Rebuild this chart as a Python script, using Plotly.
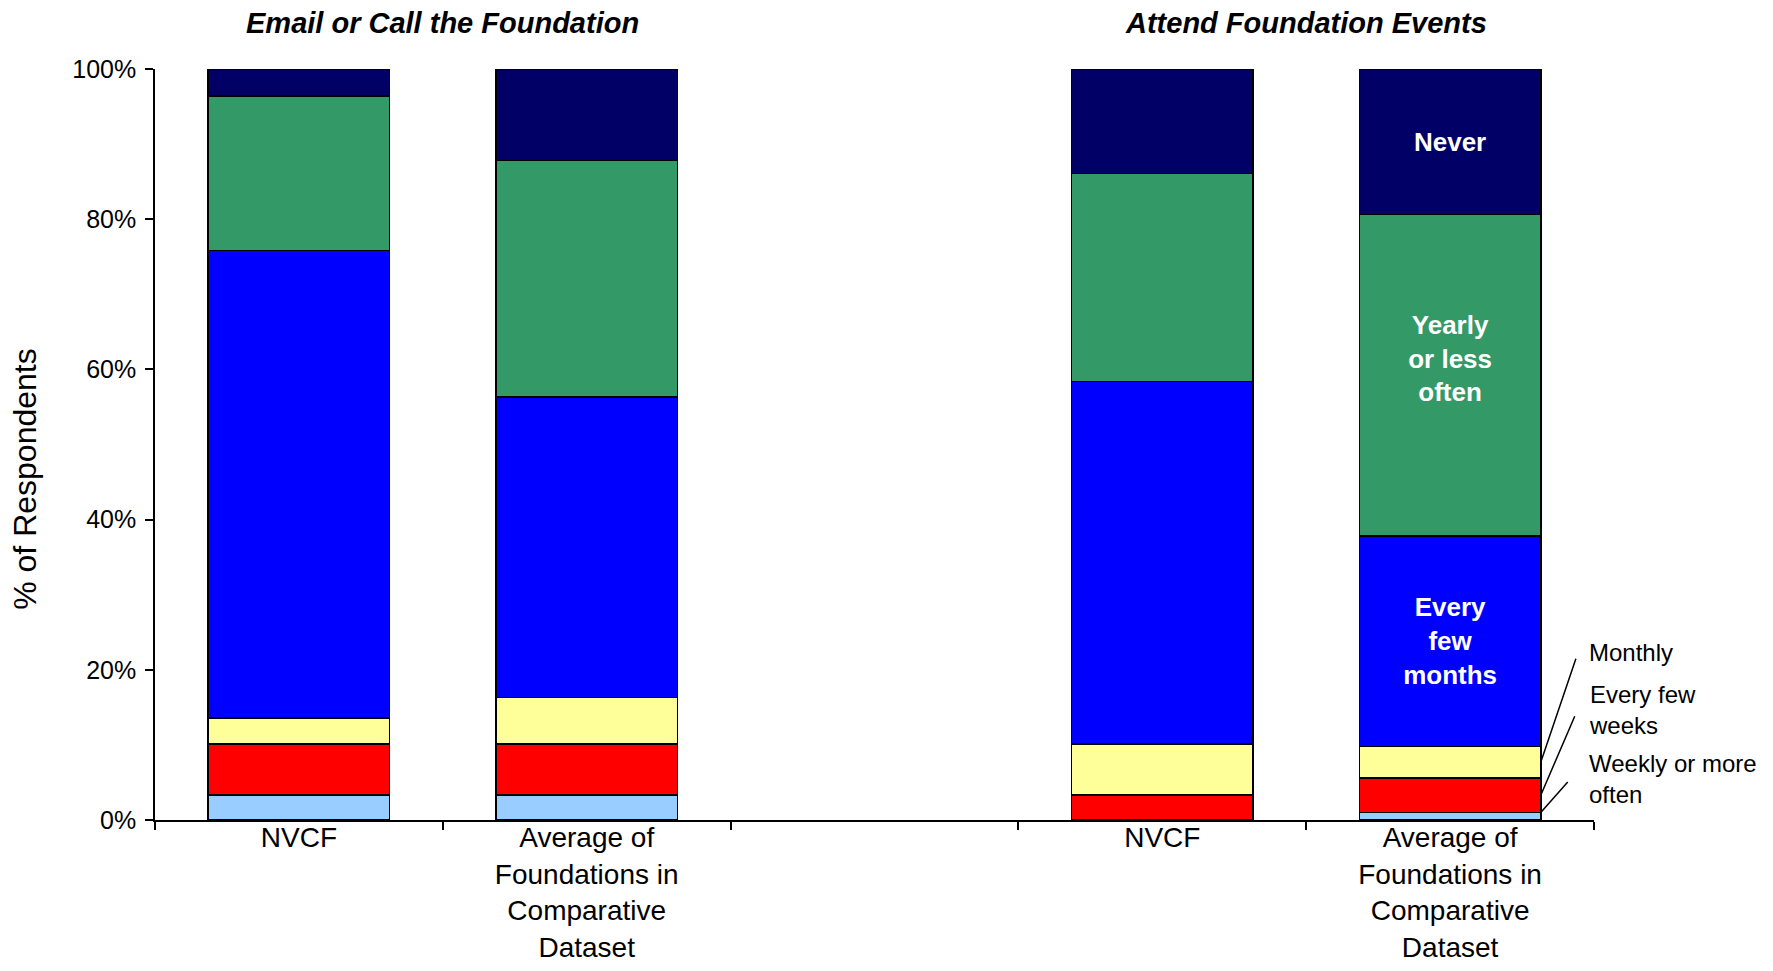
import plotly.graph_objects as go

# %%
# Values (percent of respondents)
categories = ["email_nvcf", "email_avg", "spacer", "events_nvcf", "events_avg"]
tick_labels = ["NVCF", "Average of<br>Foundations in<br>Comparative<br>Dataset", "",
               "NVCF", "Average of<br>Foundations in<br>Comparative<br>Dataset"]
panel_titles = ["Email or Call the Foundation", "Attend Foundation Events"]
y_ticks = [0, 20, 40, 60, 80, 100]
y_tick_labels = ["0%", "20%", "40%", "60%", "80%", "100%"]

weekly = [3.3, 3.3, None, 0.0, 1.0]
few_weeks = [6.8, 6.8, None, 3.3, 4.6]
monthly = [3.5, 6.2, None, 6.8, 4.2]
few_months = [62.2, 40.0, None, 48.3, 28.0]
yearly = [20.6, 31.5, None, 27.7, 42.8]
never = [3.6, 12.2, None, 13.9, 19.4]

series = [
    ("Weekly or more often", weekly, "#99CCFF", ""),
    ("Every few weeks", few_weeks, "#FF0000", ""),
    ("Monthly", monthly, "#FFFF99", ""),
    ("Every few months", few_months, "#0000FF", "Every<br>few<br>months"),
    # trailing blank line nudges the label up a little, as in the original
    ("Yearly or less often", yearly, "#339966", "Yearly<br>or less<br>often<br> "),
    ("Never", never, "#000066", "Never"),
]

FONT = "Arial, Liberation Sans, sans-serif"

# %%
fig = go.Figure()
for name, vals, color, inside in series:
    fig.add_trace(go.Bar(
        x=categories, y=vals, name=name,
        marker=dict(color=color, line=dict(color="black", width=1.5)),
        text=["", "", "", "", inside],
        textposition="inside", insidetextanchor="middle", textangle=0,
        textfont=dict(family=FONT, size=26, color="white", weight="bold"),
        hoverinfo="name+y"))

# panel titles, centred over each pair of bars
for xpos, title in zip([0.5, 3.5], panel_titles):
    fig.add_annotation(x=xpos, xref="x", y=1, yref="paper", yshift=46, yanchor="middle",
                       text="<b><i>" + title + "</i></b>", showarrow=False,
                       font=dict(family=FONT, size=29, color="black"))

fig.add_annotation(x=-0.09, xref="paper", y=0.455, yref="paper", text="% of Respondents",
                   xanchor="center", yanchor="middle",
                   textangle=-90, showarrow=False, font=dict(family=FONT, size=32, color="black"))

# callouts for the small segments of the last bar
bar_edge = 4 + 0.315
callouts = [
    ("Monthly", weekly[4] + few_weeks[4] + monthly[4] / 2, 38, -112, 110),
    ("Every few<br>weeks", weekly[4] + few_weeks[4] / 2, 37, -86, 85),
    ("Weekly or more<br>often", weekly[4], 30, -34, 33),
]
for label, yval, ax, ay, yshift in callouts:
    fig.add_annotation(x=bar_edge, y=yval, text=" ", showarrow=True, arrowhead=0,
                       arrowwidth=1.5, arrowcolor="black", ax=ax, ay=ay)
    fig.add_annotation(x=bar_edge, y=yval, text=label, showarrow=False, xanchor="left",
                       yanchor="middle", align="left", xshift=46, yshift=yshift,
                       font=dict(family=FONT, size=24, color="black"))

# page body adds an 8px offset, so the figure is 8px smaller than the window
fig.update_layout(
    barmode="stack", bargap=0.37, showlegend=False,
    width=1765, height=963,
    margin=dict(l=147, r=179, t=61, b=151),
    plot_bgcolor="white", paper_bgcolor="white",
    font=dict(family=FONT, color="black"),
)
fig.update_xaxes(
    categoryorder="array", categoryarray=categories, range=[-0.5, 4.5], automargin=False,
    tickmode="array", tickvals=categories, ticktext=tick_labels,
    tickson="boundaries", ticks="outside", ticklen=8, tickwidth=1.5, tickcolor="black",
    ticklabelstandoff=-8,
    showline=True, linecolor="black", linewidth=1.5, showgrid=False,
    tickfont=dict(family=FONT, size=28, color="black"))
fig.update_yaxes(
    range=[0, 100], automargin=False, tickmode="array", tickvals=y_ticks, ticktext=y_tick_labels,
    ticks="outside", ticklen=8, tickwidth=1.5, tickcolor="black", ticklabelstandoff=4,
    showline=True, linecolor="black", linewidth=1.5, showgrid=False, zeroline=False,
    tickfont=dict(family=FONT, size=25, color="black"))

fig.write_html("out.html")
